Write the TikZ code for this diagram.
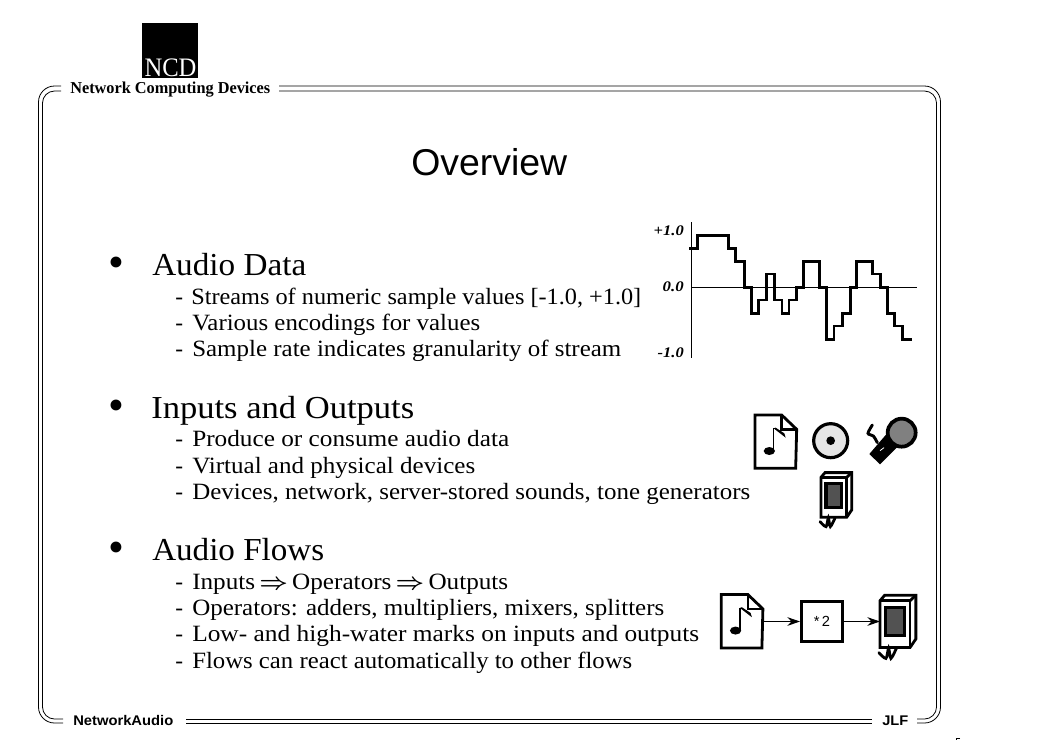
\documentclass[tikz,border=0pt]{standalone}
\usepackage{fontspec}
\usepackage{graphicx}
\usetikzlibrary{arrows.meta}
\setmainfont{Liberation Serif}
\setsansfont{Liberation Sans}
\newlength{\pxu}\setlength{\pxu}{0.75pt}
\newcommand{\fitw}[2]{\resizebox{#1\pxu}{\height}{#2}}
\newcommand{\flowsym}{{\boldmath$\Rightarrow$}}
\tikzset{
  framel/.style={line width=0.6pt, black},
  headtext/.style={anchor=base west, inner sep=0pt, font=\fontsize{24}{26}\selectfont},
  subtext/.style={anchor=base west, inner sep=0pt, font=\fontsize{17.5}{20}\selectfont},
  bulletmark/.style={anchor=base, inner sep=0pt, font=\fontsize{34}{34}\selectfont},
  axislabel/.style={anchor=base east, inner sep=0pt, font=\fontsize{11}{12}\selectfont\bfseries\itshape},
  footlabel/.style={anchor=base west, inner sep=0pt, font=\sffamily\bfseries\fontsize{10.5}{12}\selectfont},
  iconline/.style={line width=2.1pt, line join=miter, black},
  flowarrow/.style={line width=0.8pt, -{Stealth[length=9.5pt, width=6.5pt]}},
  opbox/.style={draw, line width=2pt, minimum width=31pt, minimum height=30pt, inner sep=0pt, font=\sffamily\fontsize{11}{12}\selectfont},
  iconslot/.style={inner sep=0pt, minimum width=30pt, minimum height=40pt},
  fileicon/.pic={
    \begin{scope}[x=.25pt,y=-.25pt]
      \draw[iconline, fill=white] (0,0) -- (80,0) -- (125,43) -- (122,160) -- (0,160) -- cycle;
      \draw[iconline] (80,-2) -- (80,43) -- (125,43);
      \fill (43,108) ellipse [x radius=17, y radius=12];
      \draw[line width=1pt] (56,105) -- (56,40);
      \fill (56,40) -- (92,68) -- (88,55) -- (62,38) -- cycle;
    \end{scope}
  },
  speakericon/.pic={
    \begin{scope}[x=.25pt,y=-.25pt]
      \draw[iconline, fill=white] (0,0) -- (12,-14) -- (92,-14) -- (92,98) -- (77,120) -- (0,120) -- cycle;
      \draw[iconline] (0,0) -- (77,0) -- (77,120);
      \draw[iconline] (77,0) -- (92,-14);
      \draw[line width=2.4pt, fill=black!68] (15,18) rectangle (62,90);
      \draw[line width=2.1pt, line cap=round] plot[smooth] coordinates {(-3,133) (15,148) (22,122) (28,148) (42,122)};
    \end{scope}
  },
}
\begin{document}
\begin{tikzpicture}[x=0.75pt,y=-0.75pt]
\useasboundingbox (0,0) rectangle (1038,740);
\fill[white] (0,0) rectangle (1038,740);

% logo
\fill[black] (142,23) rectangle (198,78);
\node[anchor=base, inner sep=0pt, text=white, font=\fontsize{20}{22}\selectfont] (logo) at (170.5,76.5) {\fitw{52}{NCD}};
\node[anchor=base west, inner sep=0pt, font=\bfseries\fontsize{12.5}{14}\selectfont] (company) at (70,93) {\fitw{200}{Network Computing Devices}};

% frame
\begin{scope}[framel]
\draw[rounded corners=12pt] (61,86) -- (38.5,86) -- (38.5,723) -- (63,723);
\draw[rounded corners=9pt] (61,91) -- (42.5,91) -- (42.5,719) -- (63,719);
\draw[rounded corners=12pt] (279,86) -- (940.5,86) -- (940.5,723) -- (917,723);
\draw[rounded corners=9pt] (279,91) -- (936.5,91) -- (936.5,719) -- (917,719);
\draw (186,723) -- (872,723);
\draw (186,719) -- (872,719);
\end{scope}
\node[footlabel] (foot) at (73,725) {\fitw{100}{NetworkAudio}};
\node[footlabel] (author) at (882,725) {\fitw{26}{JLF}};
\draw[line width=0.6pt] (960,738) -- (956.5,738) -- (956.5,740);

% title
\node[anchor=base west, inner sep=0pt, font=\sffamily\fontsize{28}{32}\selectfont] (title) at (411,175) {\fitw{156}{Overview}};

% section 1
\node[bulletmark] (b1) at (116,277) {•};
\node[headtext] (h1) at (152,275) {\fitw{154}{Audio Data}};
\node[subtext] (d11) at (175,304) {-};
\node[subtext] (s11) at (191,304) {\fitw{450}{Streams of numeric sample values [-1.0, +1.0]}};
\node[subtext] (d12) at (175,330) {-};
\node[subtext] (s12) at (192,330) {\fitw{288}{Various encodings for values}};
\node[subtext] (d13) at (175,356) {-};
\node[subtext] (s13) at (192,356) {\fitw{429}{Sample rate indicates granularity of stream}};

% section 2
\node[bulletmark] (b2) at (116,420) {•};
\node[headtext] (h2) at (151,418) {\fitw{263}{Inputs and Outputs}};
\node[subtext] (d21) at (175,446) {-};
\node[subtext] (s21) at (192,446) {\fitw{317}{Produce or consume audio data}};
\node[subtext] (d22) at (175,473) {-};
\node[subtext] (s22) at (192,473) {\fitw{283}{Virtual and physical devices}};
\node[subtext] (d23) at (175,499) {-};
\node[subtext] (s23) at (192,499) {\fitw{558}{Devices, network, server-stored sounds, tone generators}};

% section 3
\node[bulletmark] (b3) at (116,562) {•};
\node[headtext] (h3) at (152,560) {\fitw{172}{Audio Flows}};
\node[subtext] (d31) at (175,589) {-};
\node[subtext] (s31) at (192,589) {\fitw{316}{Inputs\,\flowsym\,Operators\,\flowsym\,Outputs}};
\node[subtext] (d32) at (175,615) {-};
\node[subtext] (s32) at (192,615) {\fitw{472}{Operators: adders, multipliers, mixers, splitters}};
\node[subtext] (d33) at (175,641) {-};
\node[subtext] (s33) at (192,641) {\fitw{507}{Low- and high-water marks on inputs and outputs}};
\node[subtext] (d34) at (175,668) {-};
\node[subtext] (s34) at (192,668) {\fitw{440}{Flows can react automatically to other flows}};

% waveform
\node[axislabel] (lp) at (684,235) {\fitw{30}{+1.0}};
\node[axislabel] (lz) at (684,291) {\fitw{21}{0.0}};
\node[axislabel] (lm) at (684,357) {\fitw{26}{-1.0}};
\begin{scope}[shift={(640,210)},x=.25pt,y=-.25pt]
\draw[line width=0.7pt] (155,37) -- (155,443);
\draw[line width=0.7pt] (155,232) -- (830,232);
\draw[line width=2pt, line join=miter] (148,115) -- (172,115) -- (172,76) -- (266,76) -- (266,115) -- (287,115) -- (287,154) -- (313,154) -- (313,232) -- (334,232) -- (334,311) -- (355,311) -- (355,270) -- (380,270) -- (380,192) -- (403,192) -- (403,270) -- (426,270) -- (426,311) -- (447,311) -- (447,270) -- (469,270) -- (469,232) -- (491,232) -- (491,154) -- (538,154) -- (538,232) -- (560,232) -- (560,388) -- (582,388) -- (582,348) -- (607,348) -- (607,311) -- (632,311) -- (632,232) -- (650,232) -- (650,154) -- (697,154) -- (697,192) -- (721,192) -- (721,232) -- (743,232) -- (743,311) -- (764,311) -- (764,348) -- (788,348) -- (788,388) -- (815,388);
\end{scope}

% device icons
\pic at (755,415) {fileicon};
\begin{scope}[shift={(740,400)},x=.25pt,y=-.25pt]
% disc
\draw[line width=2.4pt, fill=black!10] (272,122) circle [radius=51];
\fill (272,122) circle [radius=13];
% microphone
\draw[line width=2.2pt, line cap=round] plot[smooth] coordinates {(397,75) (384,100) (400,108) (412,128)};
\fill (437,105) -- (388,162) -- (420,193) -- (473,140) -- cycle;
\draw[white, line width=0.6pt] (420,152) -- (432,143);
\draw[line width=2.8pt, fill=black!50] (485,98) circle [radius=42];
\end{scope}
\pic at (821,477.3) {speakericon};

% flow
\node[iconslot] (flowfile) at (741.5,621.5) {};
\pic at (flowfile.north west) {fileicon};
\node[opbox] (mult) at (822,621.5) {*\,2};
\node[iconslot, minimum width=34pt, minimum height=44pt, anchor=west] (flowspk) at (880,625) {};
\pic[scale=1.17] at (880,600.7) {speakericon};
\draw[flowarrow] (flowfile.east |- mult.west) -- (mult.west);
\draw[flowarrow] (mult.east) -- (mult.east -| flowspk.west);
\end{tikzpicture}
\end{document}
